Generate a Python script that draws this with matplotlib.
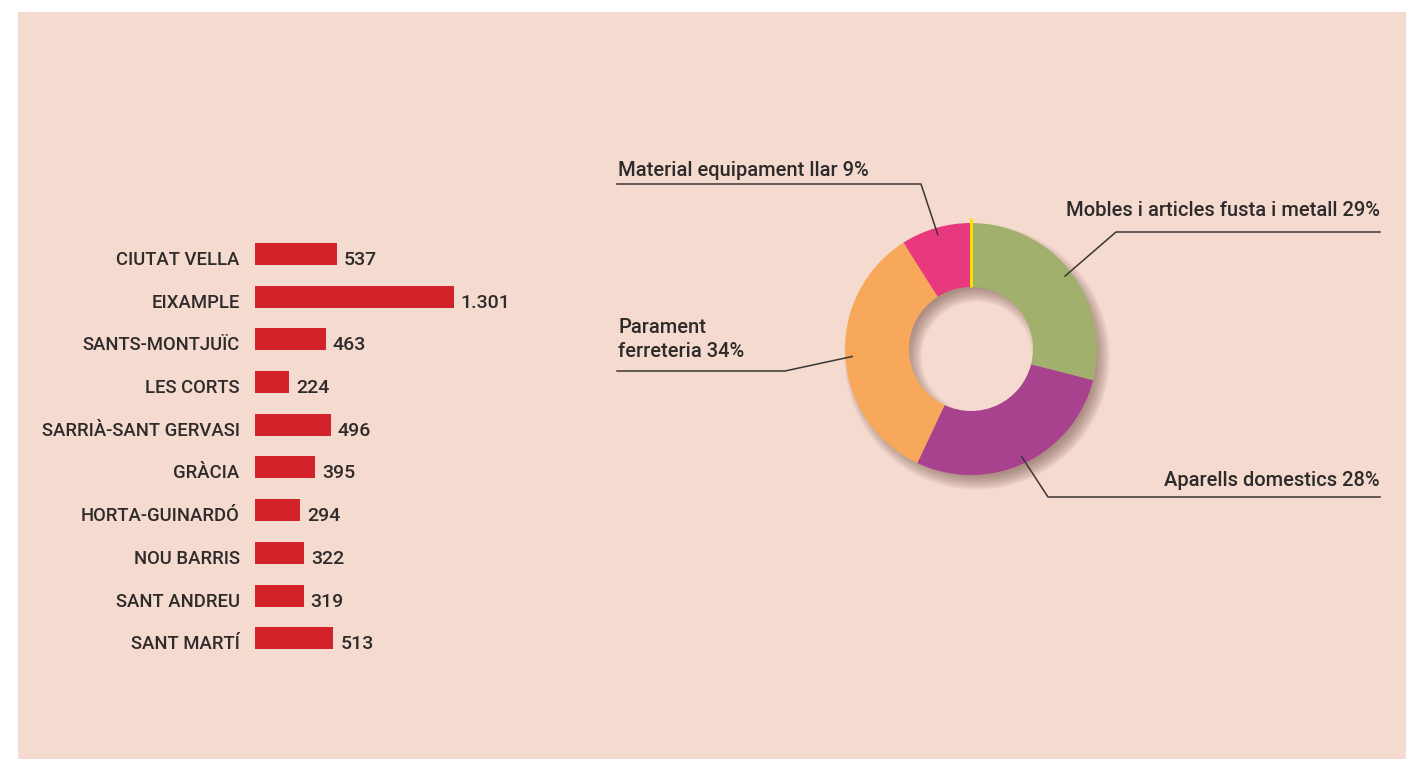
import matplotlib
matplotlib.use('Agg')
import matplotlib.pyplot as plt
from matplotlib.patches import Rectangle, Wedge
import numpy as np

# comercos per districte
districts = ['CIUTAT VELLA', 'EIXAMPLE', 'SANTS-MONTJUÏC', 'LES CORTS', 'SARRIÀ-SANT GERVASI',
             'GRÀCIA', 'HORTA-GUINARDÓ', 'NOU BARRIS', 'SANT ANDREU', 'SANT MARTÍ']
counts = [537, 1301, 463, 224, 496, 395, 294, 322, 319, 513]

# sectors (ordre del donut, en sentit horari des de dalt)
sectors = ['Mobles i articles fusta i metall', 'Aparells domestics', 'Parament\nferreteria',
           'Material equipament llar']
shares = [29, 28, 34, 9]
sector_colors = ['#a2b06d', '#a8418e', '#f7a85a', '#e8397f']

BG = '#f5dacf'
RED = '#d2232a'
TXT = '#2e2b2b'
FONT = 'Roboto'

W, H = 1406, 759
fig = plt.figure(figsize=(W / 100, H / 100), dpi=100)
fig.patch.set_facecolor('white')
fig.patches.append(Rectangle((18 / W, 0), 1 - 18 / W, 1 - 12 / H, transform=fig.transFigure,
                             facecolor=BG, edgecolor='none', zorder=-10))

# --- barres ---
px_per_unit = 0.1527
row = 42.7
top = 254 - row / 2
bot = 254 + 9 * row + row / 2
ax = fig.add_axes([255 / W, 1 - bot / H, 300 / W, (bot - top) / H])
ax.set_facecolor('none')
y = np.arange(len(districts))
bar_h = 22 / row
ax.barh(y, counts, height=bar_h, color=RED, linewidth=0)
ax.set_xlim(0, 300 / px_per_unit)
ax.set_ylim(len(districts) - 0.5, -0.5)
ax.axis('off')
for i, (name, v) in enumerate(zip(districts, counts)):
    ax.annotate(name, xy=(0, i + bar_h / 2), xytext=(-11, 0), textcoords='offset points',
                ha='right', va='baseline', fontsize=13.3, fontfamily=FONT, fontweight='medium',
                color=TXT)
    ax.annotate(f'{v:,}'.replace(',', '.'), xy=(v, i + bar_h / 2), xytext=(5, 0),
                textcoords='offset points', ha='left', va='baseline', fontsize=14,
                fontfamily=FONT, fontweight='medium', color=TXT)

# --- donut ---
ov = fig.add_axes([0, 0, 1, 1])
ov.set_facecolor('none')
cx, cy = 971, H - 349
R, r_in = 126, 62

# ombra difuminada
for d in np.linspace(-7, 7, 15):
    ov.add_patch(Wedge((cx + 6, cy - 8), R + d, 0, 360, width=(R - r_in) + 2 * d,
                       facecolor='#6b4a42', edgecolor='none', alpha=0.045, zorder=1))

wedges, _ = ov.pie(shares, colors=sector_colors, startangle=90, counterclock=False,
                   radius=R, center=(cx, cy),
                   wedgeprops=dict(width=R - r_in, linewidth=0, zorder=2))
for w in wedges:
    w.set_zorder(2)
ov.plot([cx, cx], [cy + r_in, cy + R + 5], color='#ffe000', lw=2.2, zorder=3,
        solid_capstyle='butt')

# etiquetes: colze, final de línia, posició del text (px de la imatge)
layout = [
    dict(elbow=(1116, 232), end=(1380, 232), text=(1380, 216), ha='right'),
    dict(elbow=(1048, 497), end=(1380, 497), text=(1380, 486), ha='right'),
    dict(elbow=(785, 371), end=(617, 371), text=(618, 357), ha='left'),
    dict(elbow=(921, 184), end=(617, 184), text=(618, 176), ha='left'),
]
for w, name, s, lay in zip(wedges, sectors, shares, layout):
    mid = np.deg2rad((w.theta1 + w.theta2) / 2)
    ax_x = cx + 119 * np.cos(mid)
    ax_y = cy + 119 * np.sin(mid)
    ov.plot([ax_x, lay['elbow'][0], lay['end'][0]],
            [ax_y, H - lay['elbow'][1], H - lay['end'][1]],
            color='#3a3636', lw=1.1, zorder=4)
    lines = f'{name} {s}%'.split('\n')
    tx, ty = lay['text']
    for k, line in enumerate(reversed(lines)):
        ov.text(tx, H - ty + 24 * k, line, ha=lay['ha'], va='baseline', fontsize=14.5,
                fontfamily=FONT, fontweight='medium', color=TXT, zorder=5)

ov.set_xlim(0, W)
ov.set_ylim(0, H)
ov.set_aspect('auto')
ov.axis('off')

fig.savefig('out.png', dpi=100, facecolor=fig.get_facecolor())
